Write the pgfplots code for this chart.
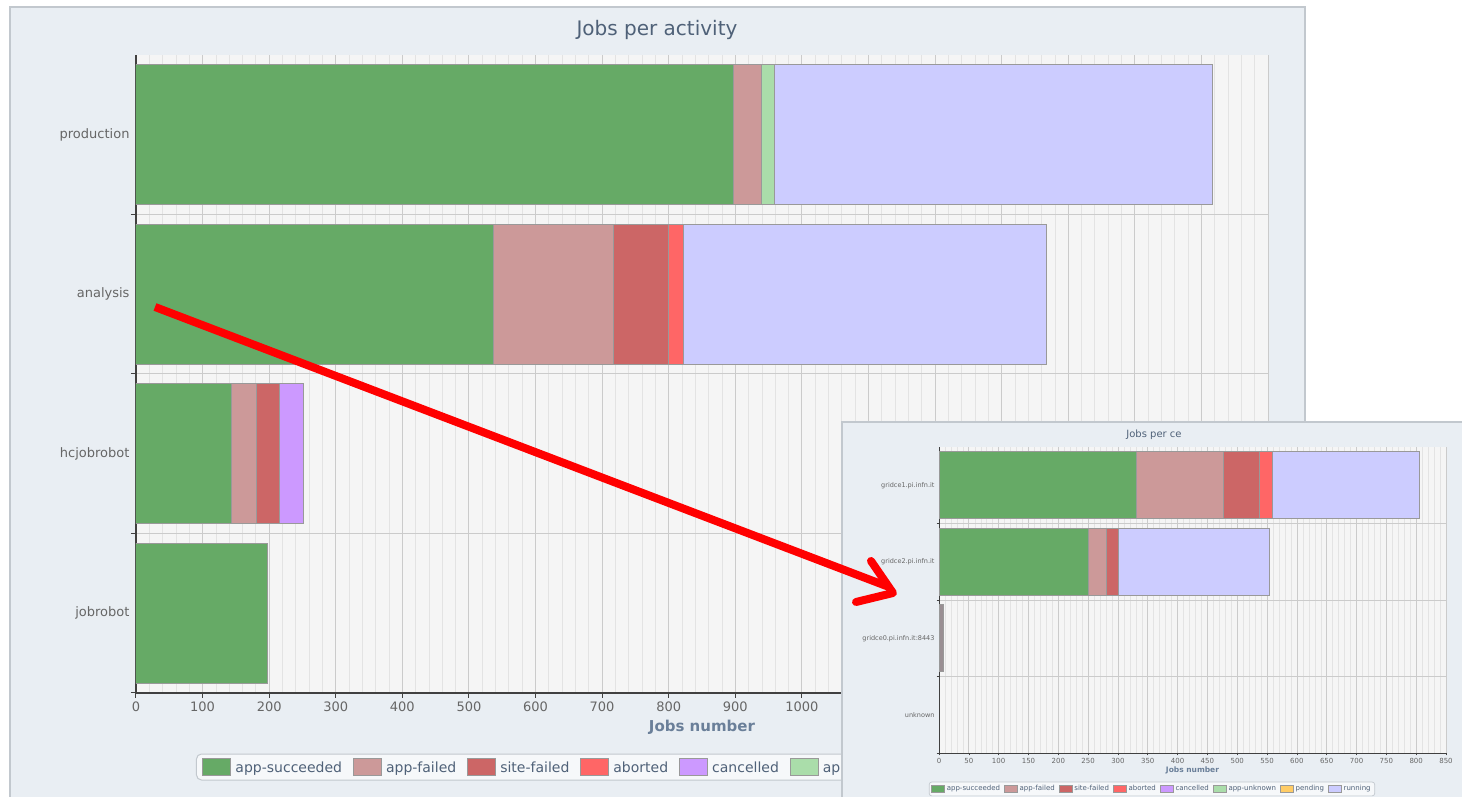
\documentclass[border=0pt]{standalone}
\usepackage{pgfplots}
\pgfplotsset{compat=1.18}
\usepackage{pgfplotstable}
\usepackage{fontspec}
\setmainfont{DejaVu Sans}
\definecolor{panel}{HTML}{E9EEF3}
\definecolor{panelborder}{HTML}{C2C8CE}
\definecolor{plotbg}{HTML}{F5F5F5}
\definecolor{gmaj}{HTML}{CBCBCB}
\definecolor{gmin}{HTML}{E3E3E3}
\definecolor{cSucc}{HTML}{66AA66}
\definecolor{cAppF}{HTML}{CC9999}
\definecolor{cSiteF}{HTML}{CC6666}
\definecolor{cAbort}{HTML}{FF6666}
\definecolor{cCanc}{HTML}{CC99FF}
\definecolor{cUnk}{HTML}{AADDAA}
\definecolor{cPend}{HTML}{FFCC66}
\definecolor{cRun}{HTML}{CCCCFF}
\definecolor{cOther}{HTML}{9A8F93}
\definecolor{barborder}{HTML}{999999}
\definecolor{titlec}{HTML}{4F6178}
\definecolor{labc}{HTML}{666666}
\definecolor{xlabc}{HTML}{6A7F99}

\pgfplotstableread{
y succ appf sitef abort canc unk pend run
0 198 0 0 0 0 0 0 0
1 144 37 35 0 36 0 0 0
2 537 180 82 23 0 0 0 545
3 898 41 0 0 0 20 0 658
}\maindata

\pgfplotstableread{
y succ appf sitef abort canc unk pend run oth
0 0 0 0 0 0 0 0 0 0
1 0 0 0 0 0 0 0 0 7
2 250 30 20 0 0 0 0 253 0
3 330 146 61 22 0 0 0 247 0
}\cedata

\pgfplotsset{
  bigsw/.style={legend image code/.code={\draw[##1, sharp corners, draw=barborder, line width=1pt] (0pt,-8pt) rectangle (28pt,9pt);}},
  smallsw/.style={legend image code/.code={\draw[##1, sharp corners, draw=barborder, line width=0.6pt] (0pt,-3.5pt) rectangle (13pt,4pt);}},
}

\begin{document}
\begin{tikzpicture}[x=1pt,y=1pt]
\useasboundingbox (0,0) rectangle (1462,797);
\fill[white] (0,0) rectangle (1462,797);
\begin{scope}
\clip (0,0) rectangle (1462,797);
\filldraw[fill=panel, draw=panelborder, line width=1.5pt] (10,-5) rectangle (1305,790);
\end{scope}
\node[text=titlec, font=\fontsize{20}{24}\selectfont] at (657,767) {Jobs per activity};

\begin{axis}[
  at={(136pt,104pt)}, anchor=south west,
  scale only axis, width=1132pt, height=638pt,
  xbar stacked, bar width=0.88,
  xmin=0, xmax=1700, ymin=-0.5, ymax=3.5,
  axis background/.style={fill=plotbg},
  axis x line*=bottom, axis y line*=left,
  axis line style={black!75, line width=1.3pt},
  xtick distance=100, minor x tick num=4,
  xmajorgrids, xminorgrids, ymajorgrids,
  major grid style={gmaj, line width=1pt},
  minor grid style={gmin, line width=0.8pt},
  tick align=outside, major tick length=5pt, minor tick length=0pt,
  tick style={black!75, line width=1pt},
  ytick={-0.5,0.5,1.5,2.5}, yticklabels={,,,},
  extra y ticks={0,1,2,3},
  extra y tick labels={jobrobot,hcjobrobot,analysis,production},
  extra y tick style={major tick length=0pt, grid=none},
  tick label style={font=\fontsize{13}{15}\selectfont, text=labc},
  /pgf/number format/assume math mode=true,
  /pgf/number format/1000 sep={},
  yticklabel style={xshift=-3pt},
  xlabel={Jobs number},
  xlabel style={font=\bfseries\fontsize{15}{18}\selectfont, text=xlabc, at={(axis description cs:0.5,0)}, anchor=center, yshift=-34pt},
  legend columns=-1,
  legend style={at={(axis description cs:0.053,-0.116)}, anchor=west, rounded corners=5pt, draw=panelborder, line width=1pt, fill=panel!40!white, font=\fontsize{14}{16}\selectfont, text=titlec, inner xsep=6pt, inner ysep=4pt, /tikz/every odd column/.append style={column sep=2pt}, /tikz/every even column/.append style={column sep=9pt}},
  legend cell align=left,
  every axis plot/.append style={draw=barborder, line width=1pt},
]
\addplot[fill=cSucc, bigsw] table[x=succ, y=y] {\maindata};
\addplot[fill=cAppF, bigsw] table[x=appf, y=y] {\maindata};
\addplot[fill=cSiteF, bigsw] table[x=sitef, y=y] {\maindata};
\addplot[fill=cAbort, bigsw] table[x=abort, y=y] {\maindata};
\addplot[fill=cCanc, bigsw] table[x=canc, y=y] {\maindata};
\addplot[fill=cUnk, bigsw] table[x=unk, y=y] {\maindata};
\addplot[fill=cPend, bigsw, forget plot] table[x=pend, y=y] {\maindata};
\addplot[fill=cRun, bigsw, forget plot] table[x=run, y=y] {\maindata};
\legend{app-succeeded,app-failed,site-failed,aborted,cancelled,app-unknown}
\end{axis}

% inset
\filldraw[fill=panel, draw=panelborder, line width=1.5pt] (842,-5) rectangle (1470,375);
\node[text=titlec, font=\fontsize{10}{12}\selectfont] at (1154,362) {Jobs per ce};

\begin{axis}[
  at={(939pt,44pt)}, anchor=south west,
  scale only axis, width=507pt, height=306pt,
  xbar stacked, bar width=0.876,
  xmin=0, xmax=850, ymin=-0.5, ymax=3.5,
  axis background/.style={fill=plotbg},
  axis x line*=bottom, axis y line*=left,
  axis line style={black!75, line width=0.8pt},
  xtick distance=50, minor x tick num=4,
  xmajorgrids, xminorgrids, ymajorgrids,
  major grid style={gmaj, line width=0.7pt},
  minor grid style={gmin, line width=0.5pt},
  tick align=outside, major tick length=2.5pt, minor tick length=0pt,
  tick style={black!75, line width=0.6pt},
  ytick={-0.5,0.5,1.5,2.5}, yticklabels={,,,},
  extra y ticks={0,1,2,3},
  extra y tick labels={unknown,gridce0.pi.infn.it:8443,gridce2.pi.infn.it,gridce1.pi.infn.it},
  extra y tick style={major tick length=0pt, grid=none},
  tick label style={font=\fontsize{7}{8}\selectfont, text=labc},
  yticklabel style={font=\fontsize{6.5}{8}\selectfont, xshift=-1pt},
  xticklabel style={yshift=1pt},
  /pgf/number format/assume math mode=true,
  /pgf/number format/1000 sep={},
  xlabel={Jobs number},
  xlabel style={font=\bfseries\fontsize{7.5}{9}\selectfont, text=xlabc, at={(axis description cs:0.5,0)}, anchor=center, yshift=-17.5pt},
  legend columns=-1,
  legend style={at={(axis description cs:0.42,-0.1176)}, anchor=center, rounded corners=2.5pt, draw=panelborder, line width=0.7pt, fill=panel!40!white, font=\fontsize{7}{8}\selectfont, text=titlec, inner xsep=2pt, inner ysep=1.5pt, /tikz/every even column/.append style={column sep=2pt}},
  legend cell align=left,
  every axis plot/.append style={draw=barborder, line width=0.6pt},
]
\addplot[fill=cSucc, smallsw] table[x=succ, y=y] {\cedata};
\addplot[fill=cAppF, smallsw] table[x=appf, y=y] {\cedata};
\addplot[fill=cSiteF, smallsw] table[x=sitef, y=y] {\cedata};
\addplot[fill=cAbort, smallsw] table[x=abort, y=y] {\cedata};
\addplot[fill=cCanc, smallsw] table[x=canc, y=y] {\cedata};
\addplot[fill=cUnk, smallsw] table[x=unk, y=y] {\cedata};
\addplot[fill=cPend, smallsw] table[x=pend, y=y] {\cedata};
\addplot[fill=cRun, smallsw] table[x=run, y=y] {\cedata};
\addplot[fill=cOther, forget plot] table[x=oth, y=y] {\cedata};
\legend{app-succeeded,app-failed,site-failed,aborted,cancelled,app-unknown,pending,running}
\end{axis}

% arrow annotation
\draw[red, line width=8pt, line cap=butt] (155,490) -- (889,210);
\draw[red, line width=8pt, line cap=round, line join=round] (871,236) -- (893,204) -- (856,195);
\end{tikzpicture}
\end{document}
